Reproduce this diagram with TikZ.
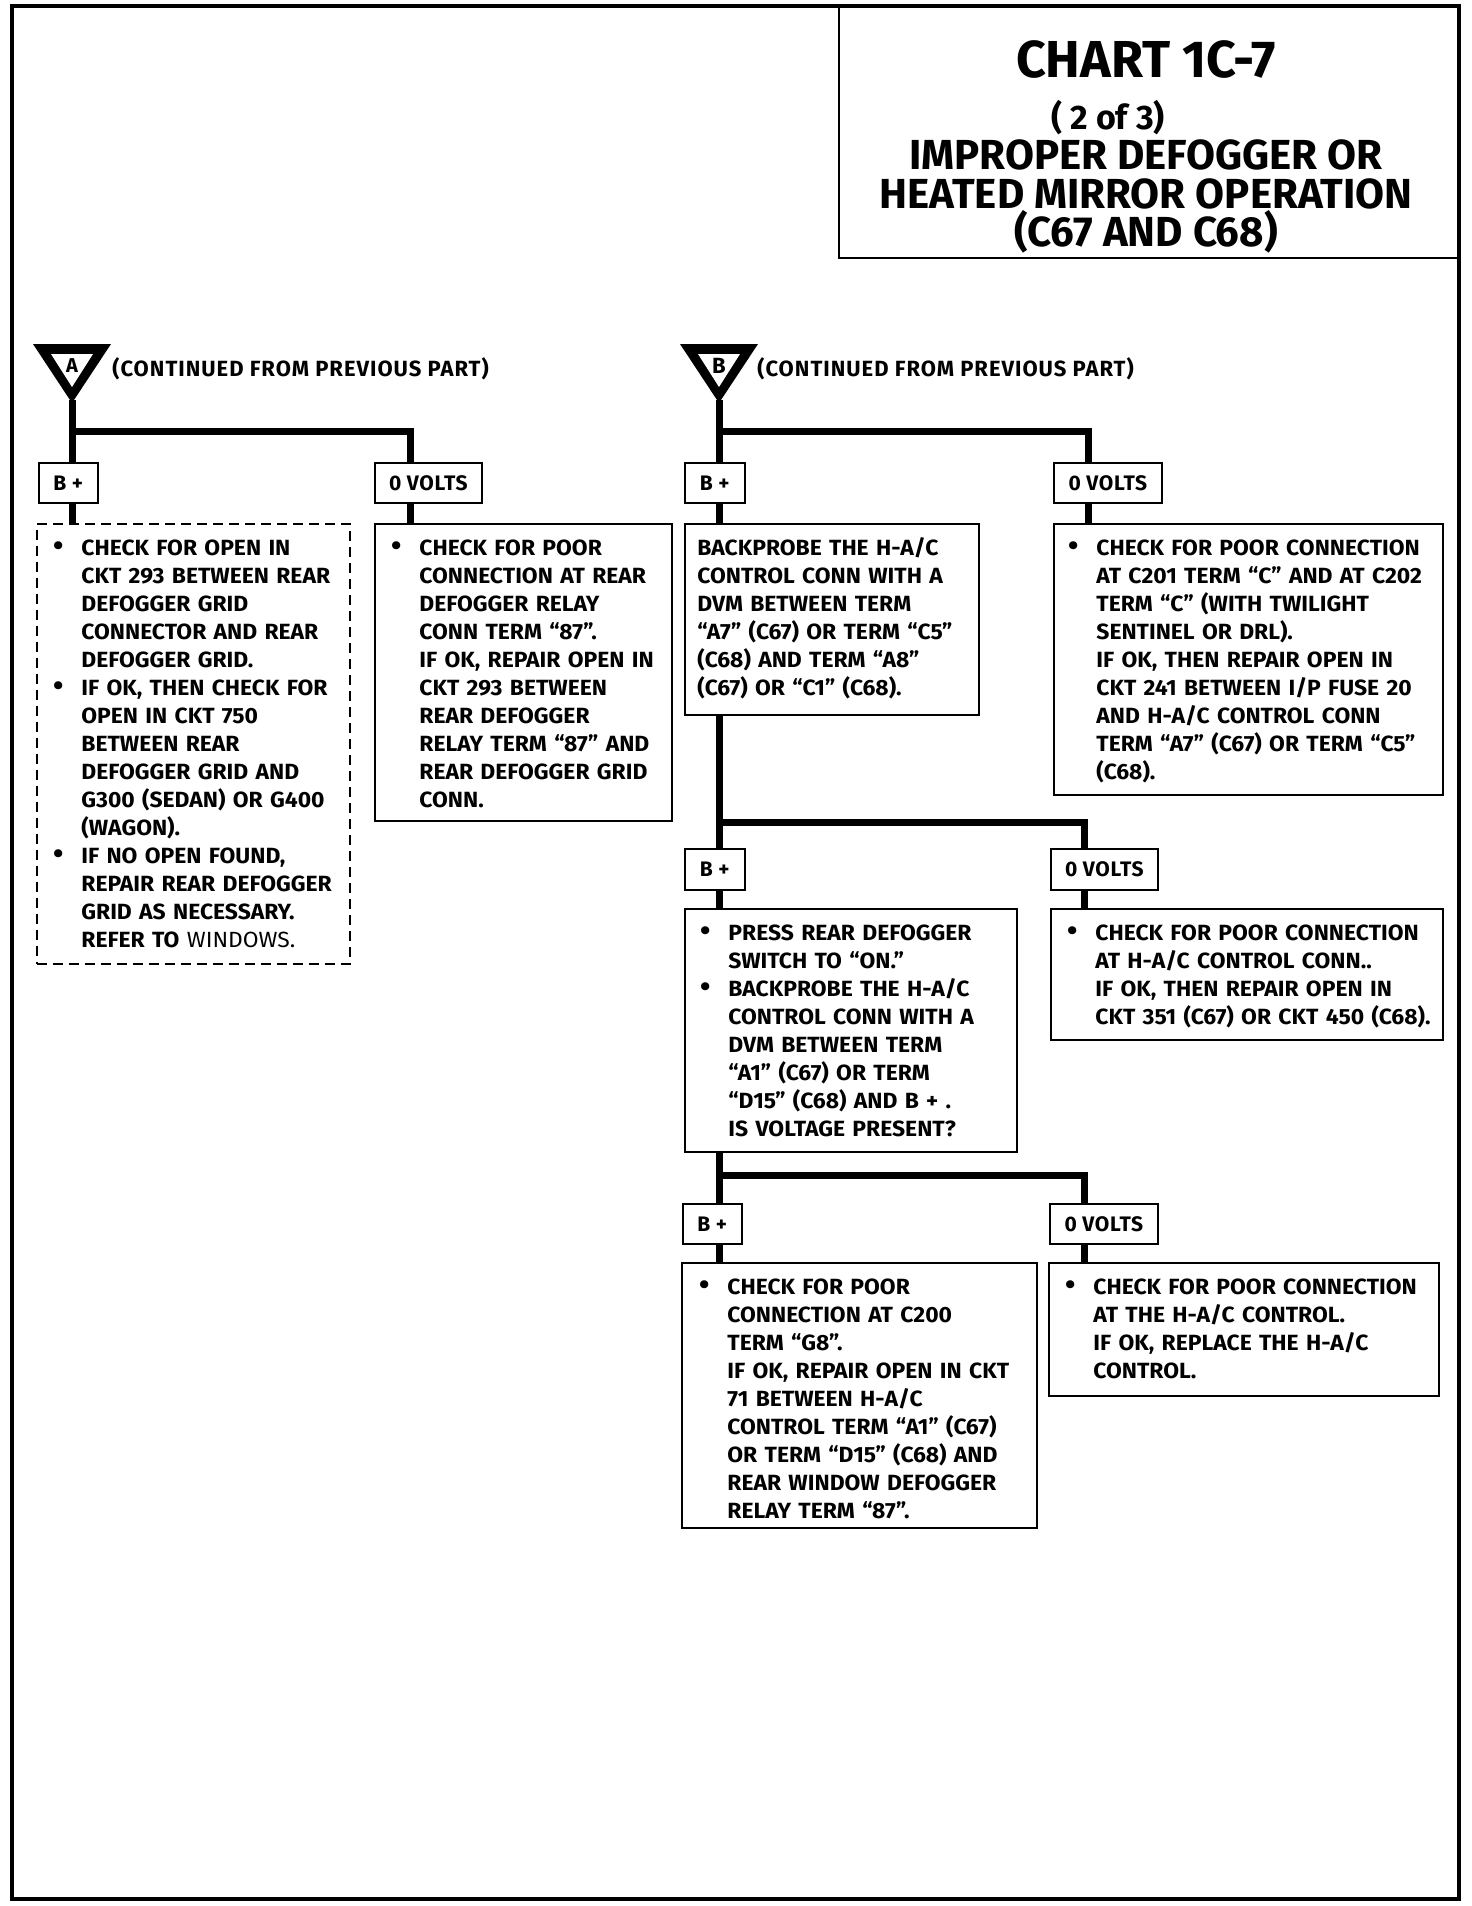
\documentclass[tikz,border=0pt]{standalone}
\usepackage{fontspec}
\usepackage{graphicx}
\setmainfont{Fira Sans}
\newfontfamily\bodyfont{Fira Sans}[FakeStretch=1.04]
\newfontfamily\contfont{Fira Sans}[LetterSpace=4.5]
\newfontfamily\lblfont{Fira Sans}[LetterSpace=3]
\usetikzlibrary{calc}
\newcommand\bul{\leavevmode\llap{\scalebox{1.3}{\textbullet}\hspace{9pt}}}
\begin{document}
\begin{tikzpicture}[x=0.5pt,y=-0.5pt,
  frm/.style={line width=2.4pt},
  lbl/.style={draw, line width=0.8pt, inner sep=0pt, anchor=north west,
    font=\lblfont\fontsize{10.5}{12}\selectfont\bfseries},
  cbox/.style={draw, line width=0.8pt, inner sep=0pt, anchor=north west},
  dbox/.style={cbox, dash pattern=on 5pt off 3pt},
  ctext/.style={anchor=base west, inner sep=0pt, align=left, text width=230pt,
    font=\bodyfont\fontsize{11}{14}\selectfont\bfseries},
  conn/.style={line width=3.5pt, line join=miter},
  tri/.style={fill=black},
  ttl/.style={anchor=base, inner sep=0pt, font=\bfseries},
  cont/.style={anchor=base west, inner sep=0pt, font=\contfont\fontsize{11}{12}\selectfont\bfseries}
]
\useasboundingbox (0,0) rectangle (1472,1906);
% frame and title box
\draw[frm] (12,6) rectangle (1459,1899);
\draw[line width=1.3pt] (839,6) -- (839,258) -- (1459,258);
\node[ttl, font=\fontsize{26}{30}\selectfont\bfseries] (t1) at (1146,77) {CHART 1C-7};
\node[ttl, font=\fontsize{17}{20}\selectfont\bfseries] (t2) at (1108,129) {( 2 of 3)};
\node[ttl, font=\fontsize{21}{25}\selectfont\bfseries] (t3) at (1146,169) {IMPROPER DEFOGGER OR};
\node[ttl, font=\fontsize{21}{25}\selectfont\bfseries] (t4) at (1146,208) {HEATED MIRROR OPERATION};
\node[ttl, font=\fontsize{21}{25}\selectfont\bfseries] (t5) at (1146,246) {(C67 AND C68)};

% triangle A
\fill[tri] (33,344) -- (111,344) -- (72,403) -- cycle;
\fill[white] (51,354) -- (93,354) -- (72,387) -- cycle;
\node[inner sep=0pt, font=\fontsize{10}{11}\selectfont\bfseries] (lA) at (72,366) {A};
\coordinate (tipA) at (72,400);
\node[cont] (cA) at (112,376) {(CONTINUED FROM PREVIOUS PART)};

% triangle B
\fill[tri] (680,344) -- (758,344) -- (719,403) -- cycle;
\fill[white] (698,354) -- (740,354) -- (719,387) -- cycle;
\node[inner sep=0pt, font=\fontsize{11}{12}\selectfont\bfseries] (lB) at (719,366) {B};
\coordinate (tipB) at (719,400);
\node[cont] (cB) at (757,376) {(CONTINUED FROM PREVIOUS PART)};

% ---------- branch A
\node[lbl, minimum width=29.5pt, minimum height=20pt] (bpA) at (38,462) {B +};
\node[lbl, minimum width=53.5pt, minimum height=20pt] (zvA) at (374,462) {0 VOLTS};
\node[dbox, minimum width=156.5pt, minimum height=220pt] (chkA) at (36,523) {};
\node[cbox, minimum width=148.5pt, minimum height=148.5pt] (zvAbox) at (374,523) {};

\coordinate (jA) at (72,431);
\draw[conn] (tipA) -- (tipA |- bpA.north);
\draw[conn] (jA) -| ([xshift=-8.75pt]zvA.north);
\draw[conn] (bpA.south -| tipA) -- (chkA.north -| tipA);
\draw[conn] ([xshift=-8.75pt]zvA.south) -- ([xshift=-8.75pt]zvA.south |- zvAbox.north);

\node[ctext] (txA) at (81,555) {\bul CHECK FOR OPEN IN\\
CKT 293 BETWEEN REAR\\
DEFOGGER GRID\\
CONNECTOR AND REAR\\
DEFOGGER GRID.\\
\bul IF OK, THEN CHECK FOR\\
OPEN IN CKT 750\\
BETWEEN REAR\\
DEFOGGER GRID AND\\
G300 (SEDAN) OR G400\\
(WAGON).\\
\bul IF NO OPEN FOUND,\\
REPAIR REAR DEFOGGER\\
GRID AS NECESSARY.\\
REFER TO {\mdseries WINDOWS.}};

\node[ctext] (txzA) at (419,555) {\bul CHECK FOR POOR\\
CONNECTION AT REAR\\
DEFOGGER RELAY\\
CONN TERM “87”.\\
IF OK, REPAIR OPEN IN\\
CKT 293 BETWEEN\\
REAR DEFOGGER\\
RELAY TERM “87” AND\\
REAR DEFOGGER GRID\\
CONN.};

% ---------- branch B level 1
\node[lbl, minimum width=30pt, minimum height=20pt] (bpB1) at (684,462) {B +};
\node[lbl, minimum width=54pt, minimum height=20pt] (zvB1) at (1053,462) {0 VOLTS};
\node[cbox, minimum width=147pt, minimum height=95.5pt] (bp1box) at (684,523) {};
\node[cbox, minimum width=194.5pt, minimum height=135.5pt] (zvB1box) at (1053,523) {};

\coordinate (jB1) at (719,431);
\draw[conn] (tipB) -- (tipB |- bpB1.north);
\draw[conn] (jB1) -| ([xshift=-9.5pt]zvB1.north);
\draw[conn] (bpB1.south -| tipB) -- (bp1box.north -| tipB);
\draw[conn] ([xshift=-9.5pt]zvB1.south) -- ([xshift=-9.5pt]zvB1.south |- zvB1box.north);

\node[ctext] (txB1) at (697,555) {BACKPROBE THE H-A/C\\
CONTROL CONN WITH A\\
DVM BETWEEN TERM\\
“A7” (C67) OR TERM “C5”\\
(C68) AND TERM “A8”\\
(C67) OR “C1” (C68).};

\node[ctext] (txzB1) at (1096,555) {\bul CHECK FOR POOR CONNECTION\\
AT C201 TERM “C” AND AT C202\\
TERM “C” (WITH TWILIGHT\\
SENTINEL OR DRL).\\
IF OK, THEN REPAIR OPEN IN\\
CKT 241 BETWEEN I/P FUSE 20\\
AND H-A/C CONTROL CONN\\
TERM “A7” (C67) OR TERM “C5”\\
(C68).};

% ---------- branch B level 2
\node[lbl, minimum width=30pt, minimum height=20.5pt] (bpB2) at (684,848) {B +};
\node[lbl, minimum width=53.5pt, minimum height=20.5pt] (zvB2) at (1050,848) {0 VOLTS};
\node[cbox, minimum width=166pt, minimum height=121.5pt] (pressbox) at (684,908) {};
\node[cbox, minimum width=196pt, minimum height=65.5pt] (zvB2box) at (1050,908) {};

\coordinate (jB2) at (719,822);
\draw[conn] (bp1box.south -| tipB) -- (bpB2.north -| tipB);
\draw[conn] (jB2) -| ([xshift=-9.75pt]zvB2.north);
\draw[conn] (bpB2.south -| tipB) -- (pressbox.north -| tipB);
\draw[conn] ([xshift=-9.75pt]zvB2.south) -- ([xshift=-9.75pt]zvB2.south |- zvB2box.north);

\node[ctext] (txB2) at (728,940) {\bul PRESS REAR DEFOGGER\\
SWITCH TO “ON.”\\
\bul BACKPROBE THE H-A/C\\
CONTROL CONN WITH A\\
DVM BETWEEN TERM\\
“A1” (C67) OR TERM\\
“D15” (C68) AND B + .\\
IS VOLTAGE PRESENT?};

\node[ctext] (txzB2) at (1095,940) {\bul CHECK FOR POOR CONNECTION\\
AT H-A/C CONTROL CONN..\\
IF OK, THEN REPAIR OPEN IN\\
CKT 351 (C67) OR CKT 450 (C68).};

% ---------- branch B level 3
\node[lbl, minimum width=29.5pt, minimum height=20pt] (bpB3) at (682,1203) {B +};
\node[lbl, minimum width=54pt, minimum height=20pt] (zvB3) at (1049,1203) {0 VOLTS};
\node[cbox, minimum width=177.5pt, minimum height=132.5pt] (c200box) at (681,1262) {};
\node[cbox, minimum width=195pt, minimum height=66.5pt] (zvB3box) at (1048,1262) {};

\coordinate (jB3) at (719,1175);
\draw[conn] (pressbox.south -| tipB) -- (bpB3.north -| tipB);
\draw[conn] (jB3) -| ([xshift=-9.5pt]zvB3.north);
\draw[conn] (bpB3.south -| tipB) -- (c200box.north -| tipB);
\draw[conn] ([xshift=-9.5pt]zvB3.south) -- ([xshift=-9.5pt]zvB3.south |- zvB3box.north);

\node[ctext] (txB3) at (727,1294) {\bul CHECK FOR POOR\\
CONNECTION AT C200\\
TERM “G8”.\\
IF OK, REPAIR OPEN IN CKT\\
71 BETWEEN H-A/C\\
CONTROL TERM “A1” (C67)\\
OR TERM “D15” (C68) AND\\
REAR WINDOW DEFOGGER\\
RELAY TERM “87”.};

\node[ctext] (txzB3) at (1093,1294) {\bul CHECK FOR POOR CONNECTION\\
AT THE H-A/C CONTROL.\\
IF OK, REPLACE THE H-A/C\\
CONTROL.};
\end{tikzpicture}
\end{document}
